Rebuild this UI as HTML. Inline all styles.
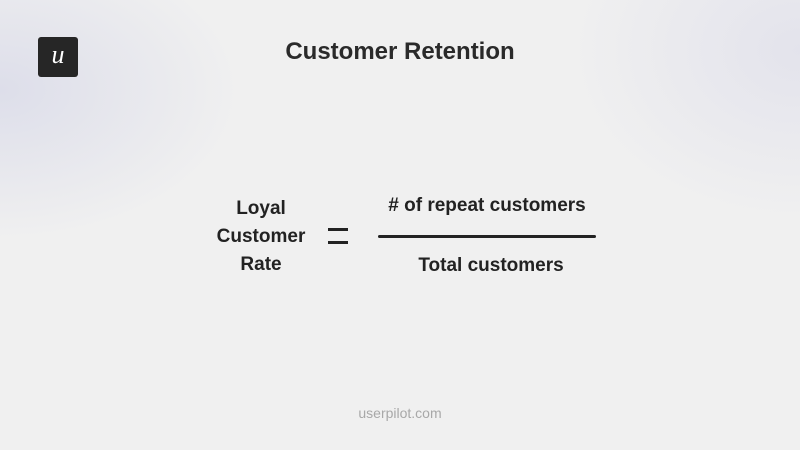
<!DOCTYPE html>
<html><head><style>
html,body{margin:0;padding:0}
body{width:800px;height:450px;position:relative;overflow:hidden;font-family:"Liberation Sans",sans-serif;
background:radial-gradient(ellipse 240px 150px at 0px 90px,#dddeea,rgba(240,240,242,0) 100%),radial-gradient(ellipse 230px 170px at 800px 50px,#e3e3ec,rgba(240,240,242,0) 100%),#f0f0f0;}
.t{position:absolute;white-space:nowrap;transform:translate(-50%,-50%);color:#222;font-weight:bold}
.logo{position:absolute;left:38px;top:37px;width:40px;height:40px;background:#262626;border-radius:3px;color:#fff;font-family:"Liberation Serif",serif;font-style:italic;font-size:26px;text-align:center;line-height:36px}
</style></head><body>
<div class="logo">u</div>
<div class="t" style="left:400px;top:52px;font-size:24px;color:#2a2a2a">Customer Retention</div>
<div class="t" style="left:261px;top:209px;font-size:19px">Loyal</div>
<div class="t" style="left:261px;top:237px;font-size:19px">Customer</div>
<div class="t" style="left:261px;top:265px;font-size:19px">Rate</div>
<div style="position:absolute;left:328px;top:228px;width:20px;height:3px;background:#222"></div>
<div style="position:absolute;left:328px;top:241px;width:20px;height:3px;background:#222"></div>
<div class="t" style="left:487px;top:206px;font-size:19px"># of repeat customers</div>
<div style="position:absolute;left:378px;top:235px;width:218px;height:3px;background:#222;border-radius:2px"></div>
<div class="t" style="left:491px;top:266px;font-size:19px">Total customers</div>
<div class="t" style="left:400px;top:413px;font-size:14px;font-weight:normal;color:#a8a8a8">userpilot.com</div>
</body></html>
